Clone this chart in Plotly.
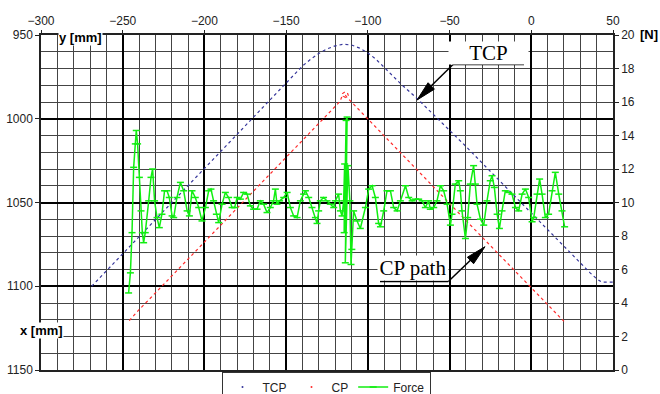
import plotly.graph_objects as go

# ---------------- data ----------------
tcp_x = [-269, -260, -250, -240, -230, -220, -210, -200, -190, -180, -170, -160, -150, -140,
         -135, -130, -125, -120, -115, -110, -105, -100, -95, -90, -80, -70, -60, -50, -40,
         -30, -20, -10, 0, 10, 20, 30, 36, 40, 43, 50]
tcp_y = [1100, 1090.8, 1080.5, 1070.3, 1060.1, 1049.8, 1039.6, 1029.3, 1019.1, 1008.9, 998.6,
         988.4, 978.1, 968.5, 964.5, 961, 958.3, 956.5, 955.5, 956, 957.8, 960.7, 964.5, 969.5,
         979, 987.8, 997.2, 1007, 1016.5, 1026.5, 1036.5, 1046.5, 1056.5, 1066.5, 1076.5,
         1086.4, 1092, 1095.5, 1097.5, 1097.5]

cp_x = [-246, -240, -230, -220, -210, -200, -190, -180, -170, -160, -150, -140, -130, -120,
        -117, -116, -115.5, -114, -112.5, -112, -113.5, -115, -114, -113, -110, -100, -90, -80,
        -70, -60, -50, -40, -30, -20, -10, 0, 10, 20]
cp_y = [1120.5, 1114, 1104, 1093.8, 1083.7, 1073.6, 1063.5, 1053.3, 1043.2, 1033.1, 1023,
        1012.9, 1002.7, 992.6, 989.6, 987, 985, 984, 984.5, 986, 987.5, 986.5, 985.5, 987,
        990, 1000, 1010.2, 1020.3, 1030.4, 1040.5, 1050.6, 1060.7, 1070.8, 1080.9, 1091,
        1101, 1111, 1121]

force_x = [-246.4, -245.3, -244.3, -243.3, -242.3, -241.7, -240.9, -239.8, -238.8, -238.0,
           -237.2, -236.2, -234.1, -232.7, -231.7, -230.5, -229.0, -227.6, -226.0, -224.4,
           -222.9, -221.5, -219.8, -218.8, -216.8, -214.7, -212.7, -210.6, -209.2, -207.6,
           -205.6, -203.5, -201.5, -199.4, -197.4, -196.0, -194.4, -192.7, -191.3, -189.2,
           -187.2, -185.2, -183.1, -181.5, -180.0, -178.0, -176.0, -173.9, -171.9, -169.9,
           -167.8, -165.8, -163.8, -161.7, -159.7, -157.7, -156.6, -155.6, -154.0, -151.5,
           -149.4, -147.4, -145.4, -143.3, -141.3, -139.3, -138.2, -136.2, -134.2, -132.1,
           -131.1, -130.1, -129.1, -127.1, -125.0, -123.0, -120.9, -119.9, -117.9, -116.8,
           -115.8, -114.8, -114.2, -114.5, -113.3, -112.7, -113.8, -112.2, -111.0, -110.3,
           -109.8, -108.7, -106.6, -104.6, -101.5, -99.5, -97.4, -95.4, -93.4, -92.3,
           -90.3, -88.3, -86.2, -84.2, -82.1, -80.1, -77.0, -75.0, -72.9, -70.9,
           -68.9, -66.8, -64.8, -62.8, -61.8, -59.7, -57.7, -55.6, -53.6, -51.5,
           -49.5, -48.5, -46.5, -44.4, -43.4, -42.4, -40.3, -38.9, -37.3, -35.3,
           -34.2, -33.2, -31.1, -29.1, -27.1, -25.1, -24.0, -22.6, -20.9, -19.5,
           -17.9, -15.9, -13.8, -11.8, -9.7, -7.7, -5.6, -3.6, -1.6, 0.5,
           1.5, 3.5, 5.1, 6.6, 8.6, 10.6, 12.7, 14.7, 16.8, 18.8, 20.4]
force_n = [4.6, 5.8, 8.2, 12.1, 13.5, 14.3, 13.5, 11.5, 9.5, 8.2,
           7.6, 8.2, 10.1, 11.5, 12.0, 10.1, 9.1, 8.5, 9.3, 10.7,
           10.7, 10.3, 9.2, 9.1, 10.3, 11.2, 10.7, 9.5, 9.2, 10.7,
           10.3, 9.7, 8.9, 9.7, 10.7, 10.8, 10.1, 9.3, 8.8, 9.9,
           10.6, 10.3, 9.7, 9.7, 10.3, 10.2, 10.6, 10.5, 9.8, 9.6,
           9.6, 10.1, 9.9, 9.4, 9.7, 10.1, 10.8, 9.9, 10.1, 10.3,
           10.6, 9.7, 9.2, 9.1, 10.1, 10.5, 10.7, 10.3, 9.7, 9.1,
           8.75, 9.5, 10.1, 10.3, 10.1, 9.9, 9.7, 10.1, 10.5, 9.5,
           9.2, 10.1, 12.3, 8.2, 14.9, 15.1, 6.4, 12.2, 10.1, 6.3,
           7.2, 9.5, 8.9, 8.45, 9.7, 10.8, 11.0, 10.3, 8.75, 8.55,
           9.5, 10.7, 10.7, 9.7, 9.5, 10.1, 11.0, 10.3, 10.1, 10.2,
           10.2, 10.1, 9.7, 10.1, 9.6, 9.7, 10.1, 11.0, 10.7, 9.9,
           8.65, 9.3, 11.1, 11.3, 10.7, 9.5, 7.85, 9.1, 11.1, 12.2,
           11.1, 9.9, 9.0, 8.65, 10.1, 11.3, 11.6, 10.9, 9.3, 8.45,
           9.5, 10.7, 10.6, 10.5, 9.7, 9.5, 10.5, 10.8, 10.3, 8.85,
           9.1, 10.5, 11.4, 10.5, 9.1, 9.3, 10.7, 11.8, 10.5, 9.5, 8.55]

x_ticks = [-300, -250, -200, -150, -100, -50, 0, 50]
y_ticks = [950, 1000, 1050, 1100, 1150]
n_ticks = [0, 2, 4, 6, 8, 10, 12, 14, 16, 18, 20]

# ---------------- layout helpers (pixel -> paper) ----------------
W, H = 660, 394
L, R, T, B = 41, 47, 35, 24
PW, PH = W - L - R, H - T - B


def px(x):
    return (x - L) / PW


def py(y):
    return (H - B - y) / PH


def arrow_head(tip, tail, length=20, half=4.5):
    dx, dy = tip[0] - tail[0], tip[1] - tail[1]
    n = (dx * dx + dy * dy) ** 0.5
    ux, uy = dx / n, dy / n
    bx, by = tip[0] - ux * length, tip[1] - uy * length
    p1 = (bx - uy * half, by + ux * half)
    p2 = (bx + uy * half, by - ux * half)
    return "M {} {} L {} {} L {} {} Z".format(px(tip[0]), py(tip[1]), px(p1[0]), py(p1[1]),
                                              px(p2[0]), py(p2[1]))


BLUE = "#35359a"
RED = "#ff2a2a"
GREEN = "#11ee11"
FONT = "Arial, Liberation Sans, sans-serif"
SERIF = "Liberation Serif, Times New Roman, serif"

fig = go.Figure()
fig.add_trace(go.Scatter(x=tcp_x, y=tcp_y, mode="lines", name="TCP", showlegend=False,
                         line=dict(color=BLUE, width=1.2, dash="dot")))
fig.add_trace(go.Scatter(x=cp_x, y=cp_y, mode="lines", name="CP", showlegend=False,
                         line=dict(color=RED, width=1.2, dash="dot")))
fig.add_trace(go.Scatter(x=force_x, y=force_n, mode="lines+markers", name="Force", yaxis="y2",
                         showlegend=False,
                         line=dict(color=GREEN, width=1.5),
                         marker=dict(symbol="line-ew", size=5, line=dict(color=GREEN, width=1.5))))
# legend entries
fig.add_trace(go.Scatter(x=[None], y=[None], mode="markers", name="TCP",
                         marker=dict(color=BLUE, size=2)))
fig.add_trace(go.Scatter(x=[None], y=[None], mode="markers", name="CP",
                         marker=dict(color=RED, size=2)))
fig.add_trace(go.Scatter(x=[None], y=[None], mode="lines+markers", name="Force", yaxis="y2",
                         line=dict(color=GREEN, width=1.5),
                         marker=dict(symbol="line-ew", size=5, line=dict(color=GREEN, width=1.5))))

axis_common = dict(showline=True, linecolor="#222", linewidth=1.5, zeroline=False,
                   ticks="outside", tickcolor="#222", tickfont=dict(family=FONT, size=12, color="#222"))

fig.update_layout(
    width=W, height=H,
    margin=dict(l=L, r=R, t=T, b=B, autoexpand=False),
    paper_bgcolor="white", plot_bgcolor="white",
    xaxis=dict(side="top", range=[-300, 50], tickvals=x_ticks, ticklen=3, mirror=True,
               showgrid=True, gridcolor="black", gridwidth=2,
               minor=dict(dtick=10, tick0=-300, showgrid=True, gridcolor="#444", gridwidth=1.2, ticks=""),
               **axis_common),
    yaxis=dict(range=[1150, 950], tickvals=y_ticks, ticklen=4, mirror=True,
               showgrid=True, gridcolor="black", gridwidth=2,
               minor=dict(dtick=10, tick0=950, showgrid=True, gridcolor="#444", gridwidth=1.2, ticks=""),
               **axis_common),
    yaxis2=dict(overlaying="y", side="right", range=[0, 20], tickvals=n_ticks, ticklen=4,
                showgrid=False, **axis_common),
    legend=dict(orientation="h", x=px(326), xanchor="center", y=py(371.5), yanchor="top",
                bgcolor="white", bordercolor="#333", borderwidth=1,
                font=dict(family=FONT, size=12, color="#222"), itemwidth=30, tracegroupgap=0),
    showlegend=True,
)

shapes = []
annotations = []
# TCP annotation
annotations.append(dict(xref="paper", yref="paper", x=px(488.5), y=py(52.5), text="TCP",
                        xanchor="center", yanchor="middle",
                        showarrow=False, font=dict(family=SERIF, size=21, color="black"),
                        bgcolor="white", width=79, height=22, borderpad=0))
shapes.append(dict(type="line", xref="paper", yref="paper", x0=px(453), y0=py(64.5), x1=px(524), y1=py(64.5),
                   line=dict(color="black", width=1.5)))
shapes.append(dict(type="line", xref="paper", yref="paper", x0=px(453), y0=py(64.5), x1=px(425), y1=py(92),
                   line=dict(color="black", width=1.5)))
shapes.append(dict(type="path", xref="paper", yref="paper", path=arrow_head((417, 100), (453, 64.5)),
                   fillcolor="black", line=dict(color="black", width=1)))
# CP path annotation
annotations.append(dict(xref="paper", yref="paper", x=px(413), y=py(268), text="CP path",
                        xanchor="center", yanchor="middle",
                        showarrow=False, font=dict(family=SERIF, size=21, color="black"),
                        bgcolor="white", width=70, height=24, borderpad=0))
shapes.append(dict(type="line", xref="paper", yref="paper", x0=px(380), y0=py(281.5), x1=px(448.3), y1=py(281.5),
                   line=dict(color="black", width=1.5)))
shapes.append(dict(type="line", xref="paper", yref="paper", x0=px(448.3), y0=py(281.5), x1=px(478), y1=py(253),
                   line=dict(color="black", width=1.5)))
shapes.append(dict(type="path", xref="paper", yref="paper", path=arrow_head((485, 246.7), (448.3, 281.5)),
                   fillcolor="black", line=dict(color="black", width=1)))
# axis labels
annotations.append(dict(xref="paper", yref="paper", x=px(80.5), y=py(37.5), text="<b>y [mm]</b>",
                        xanchor="center", yanchor="middle",
                        showarrow=False, font=dict(family=FONT, size=13, color="black"),
                        bgcolor="white", borderpad=0))
annotations.append(dict(xref="paper", yref="paper", x=px(41.5), y=py(330), text="<b>x [mm]</b>",
                        xanchor="center", yanchor="middle",
                        showarrow=False, font=dict(family=FONT, size=13, color="black"),
                        bgcolor="white", borderpad=0))
annotations.append(dict(xref="paper", yref="paper", x=px(648.5), y=py(34), text="<b>[N]</b>",
                        xanchor="center", yanchor="middle",
                        showarrow=False, font=dict(family=FONT, size=13, color="black")))

fig.update_layout(shapes=shapes, annotations=annotations)
fig.write_html("out.html", config={"displayModeBar": False},
               post_script="document.body.style.margin='0';")
